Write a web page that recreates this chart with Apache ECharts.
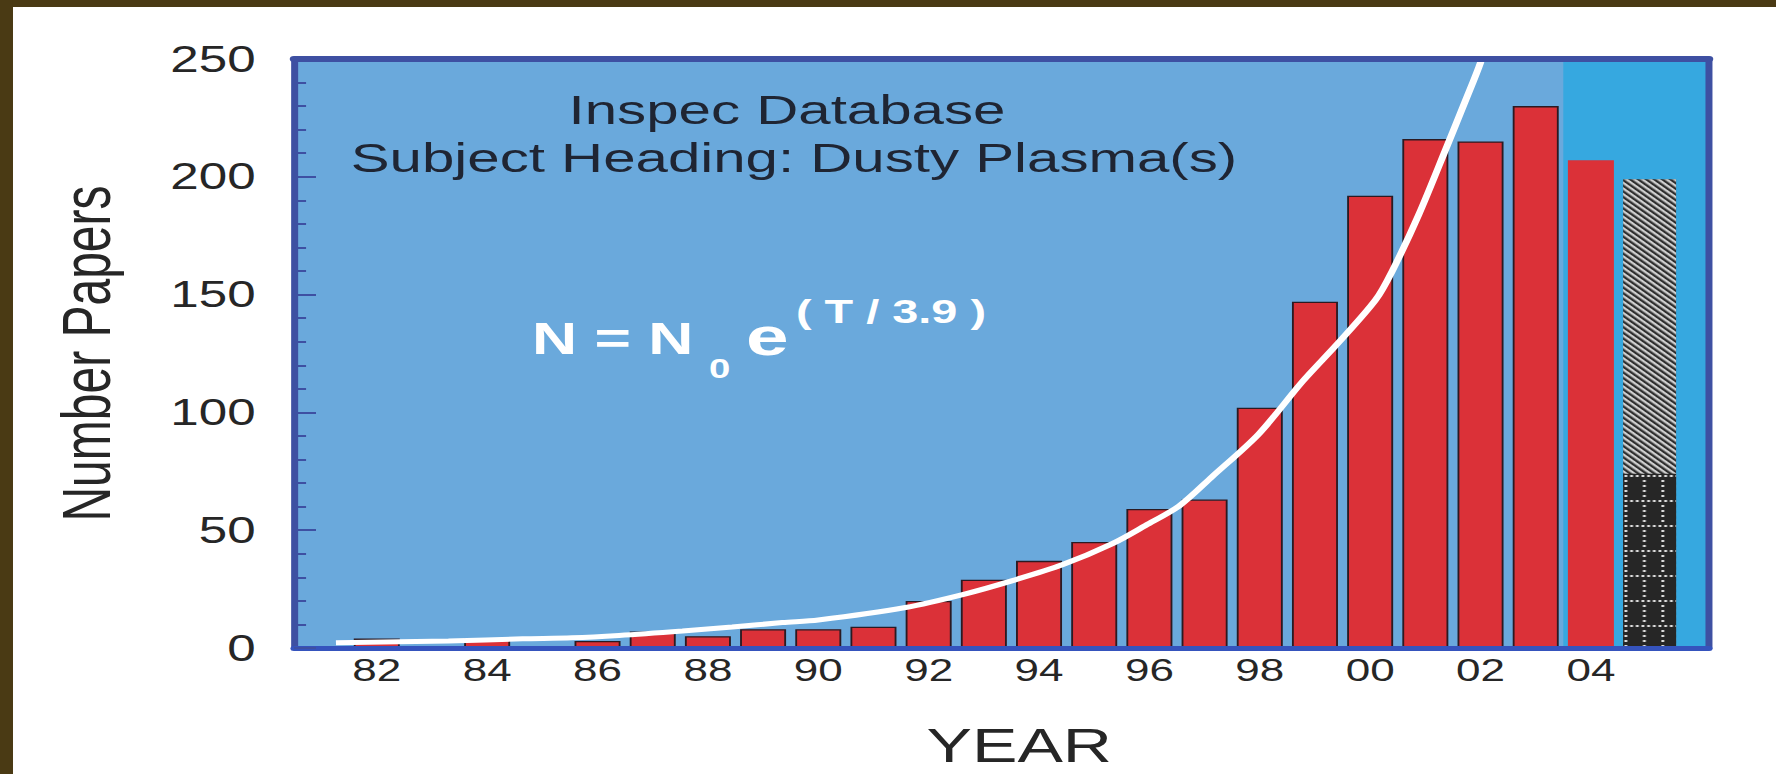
<!DOCTYPE html>
<html>
<head>
<meta charset="utf-8">
<script src="https://cdn.jsdelivr.net/npm/echarts@6/dist/echarts.min.js"></script>
<style>
html, body { margin: 0; padding: 0; background: #ffffff; overflow: hidden; }
#chart { position: absolute; left: 0; top: 0; height: 774px; transform-origin: 0 0; }
</style>
</head>
<body>
<div id="chart"></div>
<script>
// ---- data ----
const years  = [1981, 1982, 1983, 1984, 1985, 1986, 1987, 1988, 1989, 1990, 1991, 1992,
                1993, 1994, 1995, 1996, 1997, 1998, 1999, 2000, 2001, 2002, 2003, 2004];
const papers = [0, 4, 0, 4, 0, 3, 7, 5, 8, 8, 9, 20,
                29, 37, 45, 59, 63, 102, 147, 192, 216, 215, 230, 207];
const year2005 = 2005;
const papers2005Lower = 74;    // dark dotted part
const papers2005Total = 199;   // top of the hatched part
const fitCurve = [
  [1981.26, 2.2], [1983.3, 3.0], [1984.64, 3.9], [1985.54, 4.3], [1986.39, 5.3],
  [1987.54, 7.2], [1988.44, 8.9], [1989.35, 10.8], [1990.0, 11.9], [1991.58, 17.2],
  [1992.67, 23.0], [1993.52, 28.6], [1994.42, 35.3], [1995.33, 44.3], [1995.93, 52.0],
  [1996.54, 60.3], [1997.14, 72.8], [1997.98, 90.8], [1998.77, 113.0], [1999.43, 129.7],
  [2000.1, 147.8], [2000.4, 160.0], [2000.88, 183.9], [2001.37, 211.7], [2001.73, 232.5],
  [2002.0, 248.5], [2002.08, 256.0]
];
const xTickValues = [1982, 1984, 1986, 1988, 1990, 1992, 1994, 1996, 1998, 2000, 2002, 2004];
const xTickLabels = ['82', '84', '86', '88', '90', '92', '94', '96', '98', '00', '02', '04'];
const yMin = 0, yMax = 250, yStep = 50;
const xMin = 1980.5, xMax = 2006.14;
const shadeFrom = 2003.5;
const annotationLines = ['Inspec Database', 'Subject Heading: Dusty Plasma(s)'];

// ---- layout (the reference is horizontally stretched) ----
const S = 1.42;
const W0 = 1776 / S;
const H0 = 774;
const FONT = '"Liberation Sans", Arial, Helvetica, sans-serif';
const FRAME = '#3e50a2';
const TXT = '#262626';

const el = document.getElementById('chart');
el.style.width = W0 + 'px';
el.style.transform = 'scaleX(' + S + ')';
const chart = echarts.init(el, null, { renderer: 'svg', width: W0, height: H0 });

const mainData = years.map((y, i) => (
  y === 2004 ? { value: [y, papers[i]], itemStyle: { borderWidth: 0 } } : { value: [y, papers[i]] }
));

const option = {
  animation: false,
  backgroundColor: '#ffffff',
  textStyle: { fontFamily: FONT },
  grid: { left: 294 / S, right: 67 / S, top: 59, bottom: 116, show: true,
          backgroundColor: '#6aa9dc', borderWidth: 0 },
  xAxis: [{
    type: 'value', min: xMin, max: xMax, position: 'bottom', z: 10,
    name: 'YEAR', nameLocation: 'middle', nameGap: 73,
    nameTextStyle: { fontFamily: FONT, fontSize: 48, color: TXT, padding: [0, 0, 0, 25] },
    axisLine: { show: true, onZero: false, lineStyle: { color: '#3553bd', width: 5 } },
    axisTick: { show: false },
    splitLine: { show: false },
    axisLabel: {
      customValues: xTickValues,
      formatter: v => xTickLabels[xTickValues.indexOf(v)],
      fontFamily: FONT, fontSize: 31, color: TXT, margin: 7
    }
  }, {
    type: 'value', min: xMin, max: xMax, position: 'top', z: 10,
    axisLine: { show: true, onZero: false, lineStyle: { color: FRAME, width: 6 } },
    axisTick: { show: false }, axisLabel: { show: false }, splitLine: { show: false }
  }],
  yAxis: [{
    type: 'value', min: yMin, max: yMax, interval: yStep, position: 'left', z: 10,
    name: 'Number Papers', nameLocation: 'middle', nameGap: 122, nameRotate: 90,
    nameTextStyle: { fontFamily: FONT, fontSize: 48, color: TXT },
    axisLine: { show: true, onZero: false, lineStyle: { color: FRAME, width: 7 / S } },
    axisTick: { show: true, inside: true, length: 15.5, lineStyle: { color: FRAME, width: 2 } },
    minorTick: { show: true, splitNumber: 5, length: 8.5, lineStyle: { color: FRAME, width: 2 } },
    splitLine: { show: false }, minorSplitLine: { show: false },
    axisLabel: { fontFamily: FONT, fontSize: 36, color: TXT, margin: 27, padding: [0, 0, 22, 0] }
  }, {
    type: 'value', min: yMin, max: yMax, interval: yStep, position: 'right', z: 10,
    axisLine: { show: true, onZero: false, lineStyle: { color: FRAME, width: 7 / S } },
    axisTick: { show: false }, axisLabel: { show: false }, splitLine: { show: false }
  }],
  series: [
    {
      type: 'bar', name: '2005 (estimate)', barWidth: 53 / S, barGap: '-100%',
      data: [[year2005, papers2005Total]],
      itemStyle: {
        color: '#2e2e2e',
        decal: {
          color: 'rgba(225,225,225,0.9)', symbol: 'rect', symbolSize: 1,
          dashArrayX: [1, 0], dashArrayY: [1.1, 1.2], rotation: Math.PI / 4
        }
      }
    },
    {
      type: 'bar', name: '2005 (part)', barWidth: 53 / S, barGap: '-100%',
      data: [[year2005, papers2005Lower]],
      itemStyle: {
        color: '#262626',
        decal: {
          color: 'rgba(255,255,255,0.85)', symbol: 'rect', symbolSize: 1,
          dashArrayX: [[1.2, 1.8], [1.2, 10.8], [1.2, 10.8], [1.2, 10.8], [1.2, 10.8]],
          dashArrayY: [1.4, 2.4, 1.4, 2.4, 1.4, 2.4, 1.4, 2.4, 1.4, 2.4]
        }
      }
    },
    {
      type: 'bar', name: 'Papers', barWidth: 46 / S, barGap: '-100%',
      data: mainData,
      itemStyle: { color: '#db3138', borderColor: '#2b1a22', borderWidth: 1.3 },
      markArea: {
        silent: true,
        itemStyle: { color: '#36a8e0' },
        data: [[{ xAxis: shadeFrom, yAxis: yMin }, { xAxis: xMax, yAxis: yMax }]]
      }
    },
    {
      type: 'line', name: 'Fit', data: fitCurve, smooth: 0.3, symbol: 'none', clip: true, z: 5,
      lineStyle: { color: '#ffffff', width: 5 }
    }
  ],
  graphic: [
    { type: 'rect', shape: { x: 0, y: 0, width: W0, height: 7 }, style: { fill: '#4a3a14' }, z: 100 },
    { type: 'rect', shape: { x: 0, y: 0, width: 13 / S, height: H0 }, style: { fill: '#4a3a14' }, z: 100 },
    { type: 'text', x: 787 / S, y: 110, z: 50,
      style: { text: annotationLines[0], fontFamily: FONT, fontSize: 41, fill: '#1f2533', align: 'center', verticalAlign: 'middle' } },
    { type: 'text', x: 794 / S, y: 158, z: 50,
      style: { text: annotationLines[1], fontFamily: FONT, fontSize: 41, fill: '#1f2533', align: 'center', verticalAlign: 'middle' } },
    { type: 'text', x: 532 / S, y: 339, z: 50,
      style: { text: 'N = N', fontFamily: FONT, fontWeight: 'bold', fontSize: 44, fill: '#ffffff', align: 'left', verticalAlign: 'middle' } },
    { type: 'text', x: 709 / S, y: 369, z: 50,
      style: { text: '0', fontFamily: FONT, fontWeight: 'bold', fontSize: 27, fill: '#ffffff', align: 'left', verticalAlign: 'middle' } },
    { type: 'text', x: 746 / S, y: 336, z: 50,
      style: { text: 'e', fontFamily: FONT, fontWeight: 'bold', fontSize: 54, fill: '#ffffff', align: 'left', verticalAlign: 'middle' } },
    { type: 'text', x: 796 / S, y: 312, z: 50,
      style: { text: '( T / 3.9 )', fontFamily: FONT, fontWeight: 'bold', fontSize: 33, fill: '#ffffff', align: 'left', verticalAlign: 'middle' } }
  ]
};
chart.setOption(option);
</script>
</body>
</html>
